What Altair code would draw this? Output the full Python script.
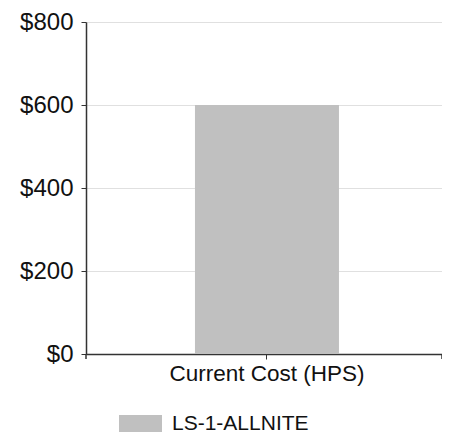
import altair as alt
import pandas as pd

categories = ["Current Cost (HPS)"]
series = ["LS-1-ALLNITE"]
values = [600]
y_ticks = [0, 200, 400, 600, 800]

df = pd.DataFrame({"category": categories, "series": series, "cost": values})

FONT = "Liberation Sans"
PLOT_W = 356
PLOT_H = 332

bars = alt.Chart(df).mark_bar(color="#c0c0c0").encode(
    x=alt.X("category:N", title=None,
            scale=alt.Scale(paddingInner=0.424, paddingOuter=0.424, align=0.514),
            axis=alt.Axis(labelAngle=0, labelFontSize=22.5, labelFont=FONT,
                          labelColor="#111", domainColor="#333", tickColor="#333",
                          tickSize=5, labelPadding=3, domainWidth=1.5, labelLimit=0)),
    y=alt.Y("cost:Q", title=None,
            scale=alt.Scale(domain=[0, 800]),
            axis=alt.Axis(values=y_ticks, format="$,.0f", labelFontSize=24,
                          labelFont=FONT, labelColor="#111", domainColor="#333",
                          tickColor="#333", tickSize=5, labelPadding=8,
                          gridColor="#e0e0e0", domainWidth=1.5)),
    color=alt.Color("series:N", title=None,
                    scale=alt.Scale(domain=series, range=["#c0c0c0"]),
                    legend=alt.Legend(orient="none", legendX=33, legendY=380,
                                      symbolType="M-1,-0.4L1,-0.4L1,0.4L-1,0.4Z",
                                      symbolSize=1849, symbolStrokeWidth=0,
                                      labelFontSize=21, labelFont=FONT,
                                      labelColor="#111", labelOffset=10,
                                      labelLimit=0, padding=0)),
)

end_ticks = alt.Chart(pd.DataFrame({"x": [0, PLOT_W]})).mark_rule(color="#333", strokeWidth=1.5).encode(
    x=alt.X("x:Q", scale=alt.Scale(domain=[0, PLOT_W]), axis=None),
    y=alt.value(PLOT_H),
    y2=alt.value(PLOT_H + 5),
)

chart = alt.layer(bars, end_ticks).resolve_scale(x="independent").properties(
    width=PLOT_W,
    height=PLOT_H,
    padding={"left": 78, "top": 14, "right": 0, "bottom": 79},
    autosize=alt.AutoSizeParams(type="none"),
).configure_view(stroke=None)

chart.save("out.html", embed_options={"renderer": "svg", "actions": False})
